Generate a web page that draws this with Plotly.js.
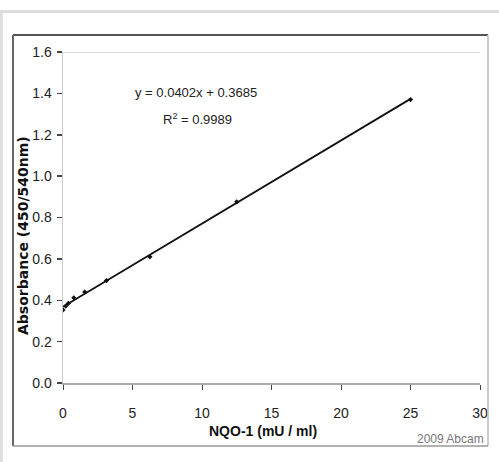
<!DOCTYPE html>
<html>
<head>
<meta charset="utf-8">
<script src="https://cdn.plot.ly/plotly-3.0.1.min.js"></script>
<style>
html,body{margin:0;padding:0;background:#fff;}
#chart{width:499px;height:462px;}
</style>
</head>
<body>
<div id="chart"></div>
<script>
// Data
const concentration = [0, 0.195, 0.39, 0.78, 1.5625, 3.125, 6.25, 12.5, 25];
const absorbance = [0.353, 0.372, 0.385, 0.412, 0.44, 0.495, 0.61, 0.876, 1.37];
const trendX = [0, 25];
const trendY = [0.3685, 1.3735];
const xTicks = [0, 5, 10, 15, 20, 25, 30];
const yTicks = [0.0, 0.2, 0.4, 0.6, 0.8, 1.0, 1.2, 1.4, 1.6];
const yTickText = ['0.0','0.2','0.4','0.6','0.8','1.0','1.2','1.4','1.6'];
const equationText = 'y = 0.0402x + 0.3685';
const r2Text = 'R<sup>2</sup> = 0.9989';
const xTitle = 'NQO-1 (mU / ml)';
const yTitle = 'Absorbance (450/540nm)';
const credit = '2009 Abcam';

const font = 'Liberation Sans, Arial, sans-serif';

const traces = [
  {x: trendX, y: trendY, mode: 'lines', line: {color: '#111', width: 1.8}, hoverinfo: 'skip', showlegend: false},
  {x: concentration, y: absorbance, mode: 'markers', marker: {symbol: 'diamond', size: 4, color: '#111'}, showlegend: false}
];

const layout = {
  width: 499, height: 462,
  margin: {l: 63, r: 19, t: 52, b: 79, pad: 0},
  paper_bgcolor: '#fff', plot_bgcolor: '#fff',
  font: {family: font, size: 13, color: '#222'},
  xaxis: {
    range: [0, 30], tickvals: xTicks, ticks: 'outside', ticklen: 5, tickwidth: 1, tickcolor: '#444',
    showgrid: false, zeroline: false, showline: true, linecolor: '#aaa', linewidth: 1.5,
    ticklabelstandoff: 12, tickfont: {family: font, size: 14, color: '#222'}
  },
  yaxis: {
    range: [0, 1.6], tickvals: yTicks, ticktext: yTickText, ticks: 'outside', ticklen: 5, tickwidth: 1.5, tickcolor: '#444',
    showgrid: false, zeroline: false, showline: true, linecolor: '#ccc', linewidth: 1.5,
    ticklabelstandoff: 2, tickfont: {family: font, size: 14, color: '#222'}
  },
  shapes: [
    // outer light frame
    {type: 'line', xref: 'paper', yref: 'paper', x0: -0.16, x1: 1.1, y0: 1.122, y1: 1.122, line: {color: '#ddd', width: 3}},
    {type: 'line', xref: 'paper', yref: 'paper', x0: -0.148, x1: -0.148, y0: 1.122, y1: -0.25, line: {color: '#ddd', width: 3}},
    // chart frame
    {type: 'line', xref: 'paper', yref: 'paper', x0: -0.1199, x1: 1.0192, y0: 1.0514, y1: 1.0514, line: {color: '#555', width: 2}},
    {type: 'line', xref: 'paper', yref: 'paper', x0: -0.1199, x1: -0.1199, y0: 1.0514, y1: -0.1903, line: {color: '#666', width: 2}},
    {type: 'line', xref: 'paper', yref: 'paper', x0: 1.0192, x1: 1.0192, y0: 1.0514, y1: -0.1903, line: {color: '#bbb', width: 1.5}},
    {type: 'line', xref: 'paper', yref: 'paper', x0: -0.1199, x1: 1.0192, y0: -0.1903, y1: -0.1903, line: {color: '#999', width: 1.5}},
    // top gridline at 1.6
    {type: 'line', xref: 'paper', yref: 'y', x0: 0, x1: 1, y0: 1.6, y1: 1.6, line: {color: '#ccc', width: 1.5}}
  ],
  annotations: [
    {text: equationText, xref: 'paper', yref: 'paper', x: (196-63)/417, y: (383-93)/331, showarrow: false, xanchor: 'center', yanchor: 'middle', font: {family: font, size: 13, color: '#222'}},
    {text: r2Text, xref: 'paper', yref: 'paper', x: (197-63)/417, y: (383-119)/331, showarrow: false, xanchor: 'center', yanchor: 'middle', font: {family: font, size: 13, color: '#222'}},
    {text: '<b>' + xTitle + '</b>', xref: 'paper', yref: 'paper', x: (263-63)/417, y: (383-431)/331, showarrow: false, xanchor: 'center', yanchor: 'middle', font: {family: font, size: 14, color: '#111'}},
    {text: '<b>' + yTitle + '</b>', xref: 'paper', yref: 'paper', x: (23-63)/417, y: (383-236)/331, showarrow: false, textangle: -90, xanchor: 'center', yanchor: 'middle', font: {family: 'DejaVu Sans, sans-serif', size: 14, color: '#111'}},
    {text: credit, xref: 'paper', yref: 'paper', x: (486-63)/417, y: (383-439)/331, showarrow: false, xanchor: 'right', yanchor: 'middle', font: {family: font, size: 12, color: '#777'}}
  ]
};

Plotly.newPlot('chart', traces, layout, {displayModeBar: false, staticPlot: true});
</script>
</body>
</html>
